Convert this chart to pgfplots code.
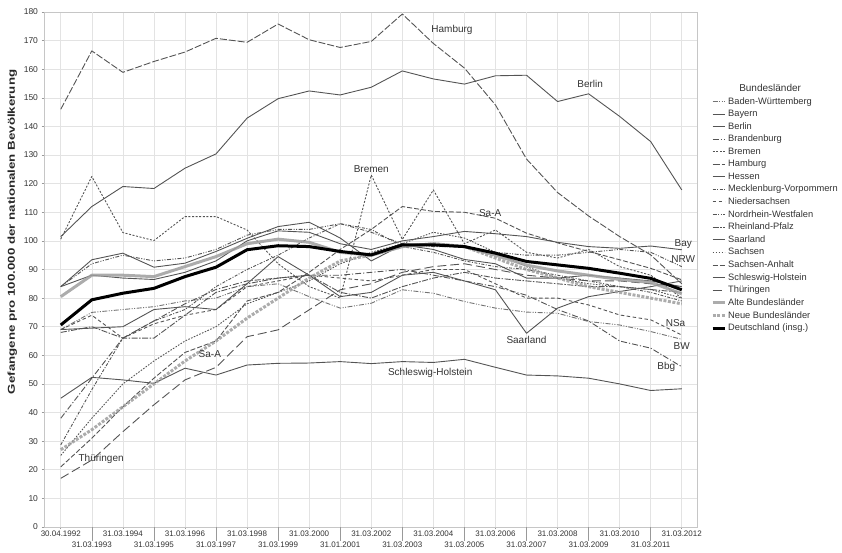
\documentclass[border=0pt]{standalone}
\usepackage{fontspec}
\setmainfont{Liberation Sans}
\usepackage{pgfplots}
\pgfplotsset{compat=1.18}
\definecolor{lc}{gray}{0.33}
\definecolor{lc2}{gray}{0.45}
\definecolor{alt}{gray}{0.62}
\begin{document}
\begin{tikzpicture}
\begin{axis}[
  width=653pt, height=515pt, scale only axis,
  xmin=-0.54, xmax=20.49, ymin=0, ymax=180,
  ytick={0,10,...,180},
  xtick={0,2,...,20},
  xticklabels={30.04.1992,31.03.1994,31.03.1996,31.03.1998,31.03.2000,31.03.2002,31.03.2004,31.03.2006,31.03.2008,31.03.2010,31.03.2012},
  extra x ticks={1,3,...,19},
  extra x tick labels={31.03.1993,31.03.1995,31.03.1997,31.03.1999,31.01.2001,31.03.2003,31.03.2005,31.03.2007,31.03.2009,31.03.2011},
  extra x tick style={major tick length=14pt},
  grid=major, major grid style={gray!22, line width=0.6pt},
  tick align=outside, major tick length=2.5pt,
  tick style={gray!80, line width=0.6pt}, axis line style={gray!45},
  xtick pos=bottom, ytick pos=left,
  ticklabel style={font=\fontsize{8}{8}\selectfont, text=black!80},
  yticklabel style={font=\fontsize{8.5}{8.5}\selectfont},
  xticklabel style={inner sep=1pt},
  /pgf/number format/assume math mode=true,
  ylabel={\scalebox{1.33}[1]{Gefangene pro 100.000 der nationalen Bevölkerung}},
  ylabel style={font=\bfseries\fontsize{10}{10}\selectfont, at={(rel axis cs:-0.036,0.573)}, anchor=south, text=black!85},
  legend cell align=left,
  legend style={at={(rel axis cs:1.0214,0.838)}, anchor=north west, draw=none, fill=none,
    font=\fontsize{9.3}{9.5}\selectfont, text=black!80, row sep=0.4pt, inner sep=0pt},
  legend image code/.code={\draw[#1] (0pt,0pt) -- (12pt,0pt);},
  every axis plot/.append style={line width=0.9pt, lc, line join=round},
  clip=false,
]
% Baden-Wuerttemberg
\addplot[lc2, dash pattern=on 5pt off 1.5pt on 1pt off 1.5pt on 1pt off 1.5pt] coordinates {(0,69)(1,75)(2,76)(3,77)(4,79)(5,80)(6,84)(7,85)(8,80.5)(9,76.5)(10,78.2)(11,82.9)(12,81.7)(13,78.8)(14,76.5)(15,75.1)(16,74.7)(17,71.8)(18,70.6)(19,68.3)(20,65.6)};
\addlegendentry{Baden-Württemberg}
% Bayern
\addplot[solid] coordinates {(0,84)(1,88)(2,87)(3,86.5)(4,89)(5,93)(6,100)(7,103.5)(8,103)(9,99)(10,97)(11,100)(12,101.5)(13,103.3)(14,102.5)(15,101.5)(16,99.5)(17,98)(18,97.4)(19,98.2)(20,96.9)};
\addlegendentry{Bayern}
% Berlin
\addplot[solid] coordinates {(0,101.5)(1,112)(2,119)(3,118.3)(4,125.4)(5,130.4)(6,142.9)(7,149.7)(8,152.4)(9,151)(10,153.7)(11,159.4)(12,156.6)(13,154.8)(14,157.7)(15,157.9)(16,148.7)(17,151.4)(18,143.5)(19,134.7)(20,117.8)};
\addlegendentry{Berlin}
% Brandenburg
\addplot[dash pattern=on 6pt off 2pt on 1.2pt off 2pt] coordinates {(0,38)(1,52)(2,66)(3,72)(4,78)(5,83)(6,86)(7,87)(8,88)(9,88)(10,89)(11,90)(12,88)(13,86)(14,84)(15,81)(16,76)(17,72)(18,65)(19,62.5)(20,56)};
\addlegendentry{Brandenburg}
% Bremen
\addplot[dash pattern=on 2pt off 1.6pt] coordinates {(0,100.6)(1,122.5)(2,102.9)(3,100.1)(4,108.5)(5,108.5)(6,103.8)(7,92)(8,84)(9,80)(10,123)(11,100.5)(12,117.8)(13,99)(14,103.8)(15,96)(16,94)(17,97)(18,91)(19,88)(20,80)};
\addlegendentry{Bremen}
% Hamburg
\addplot[dash pattern=on 7pt off 2pt] coordinates {(0,146)(1,166.4)(2,158.9)(3,162.7)(4,166)(5,170.8)(6,169.4)(7,175.8)(8,170.3)(9,167.6)(10,169.7)(11,179.3)(12,169)(13,160.4)(14,147.5)(15,128.6)(16,116.9)(17,108.7)(18,101.5)(19,95.1)(20,85)};
\addlegendentry{Hamburg}
% Hessen
\addplot[solid] coordinates {(0,84)(1,93.4)(2,95.7)(3,90.8)(4,92.2)(5,96.3)(6,100.9)(7,105)(8,106.5)(9,101)(10,93)(11,98.6)(12,97)(13,93.5)(14,92)(15,87)(16,87)(17,88)(18,87)(19,86)(20,84)};
\addlegendentry{Hessen}
% Mecklenburg-Vorpommern
\addplot[dash pattern=on 3pt off 1.5pt on 1pt off 1.5pt] coordinates {(0,28.7)(1,48)(2,66)(3,72)(4,76)(5,84)(6,90)(7,95)(8,101)(9,106)(10,104)(11,98)(12,96)(13,93)(14,91)(15,90)(16,88)(17,86)(18,84)(19,82)(20,79)};
\addlegendentry{Mecklenburg-Vorpommern}
% Niedersachsen
\addplot[dash pattern=on 3.5pt off 2.5pt] coordinates {(0,69)(1,74)(2,66)(3,71)(4,74)(5,76)(6,84)(7,86)(8,88)(9,87)(10,86)(11,88)(12,90)(13,90)(14,85)(15,80)(16,80)(17,77.6)(18,74.1)(19,72.4)(20,67.1)};
\addlegendentry{Niedersachsen}
% Nordrhein-Westfalen
\addplot[dash pattern=on 4pt off 1.5pt on 1pt off 1.5pt on 1pt off 1.5pt] coordinates {(0,84)(1,92)(2,95)(3,93)(4,94)(5,97)(6,102)(7,104)(8,104)(9,106)(10,103)(11,99)(12,98)(13,98)(14,96)(15,95)(16,95)(17,96)(18,97)(19,96)(20,91)};
\addlegendentry{Nordrhein-Westfalen}
% Rheinland-Pfalz
\addplot[dash pattern=on 6pt off 1.5pt on 1.5pt off 1.5pt] coordinates {(0,68)(1,70)(2,66)(3,66)(4,74)(5,82)(6,85)(7,87)(8,88)(9,82)(10,80)(11,84)(12,87)(13,89)(14,87)(15,86)(16,85)(17,84)(18,84)(19,83)(20,82)};
\addlegendentry{Rheinland-Pfalz}
% Saarland
\addplot[solid] coordinates {(0,69)(1,69.5)(2,70)(3,76)(4,77)(5,76)(6,85)(7,94.5)(8,88)(9,80.5)(10,82)(11,88)(12,89)(13,86)(14,82.9)(15,67.7)(16,76.5)(17,80.5)(18,82.3)(19,84)(20,86)};
\addlegendentry{Saarland}
% Sachsen
\addplot[dash pattern=on 1.6pt off 1.4pt] coordinates {(0,25)(1,38)(2,50)(3,58)(4,65)(5,70)(6,78)(7,82)(8,86)(9,92)(10,96)(11,99)(12,103)(13,101)(14,96)(15,91)(16,87)(17,85)(18,84)(19,83)(20,80)};
\addlegendentry{Sachsen}
% Sachsen-Anhalt
\addplot[dash pattern=on 5pt off 2pt] coordinates {(0,21)(1,31)(2,42)(3,52)(4,61)(5,65)(6,79)(7,82)(8,89)(9,97)(10,104)(11,112)(12,110.3)(13,110)(14,107.9)(15,102.7)(16,99.3)(17,96.3)(18,93.4)(19,90.4)(20,86.4)};
\addlegendentry{Sachsen-Anhalt}
% Schleswig-Holstein
\addplot[solid] coordinates {(0,45)(1,52.3)(2,51.4)(3,50.2)(4,55.5)(5,53.1)(6,56.6)(7,57.2)(8,57.3)(9,57.8)(10,57.1)(11,57.8)(12,57.5)(13,58.6)(14,55.8)(15,53.1)(16,52.8)(17,52)(18,50)(19,47.7)(20,48.3)};
\addlegendentry{Schleswig-Holstein}
% Thueringen
\addplot[dash pattern=on 9pt off 4pt] coordinates {(0,17)(1,23.4)(2,33.3)(3,42.7)(4,51.4)(5,55.8)(6,66.5)(7,68.9)(8,75.9)(9,82.9)(10,85)(11,89)(12,91)(13,92)(14,90)(15,88)(16,87)(17,86)(18,86)(19,85)(20,84)};
\addlegendentry{Thüringen}
% Alte Bundeslaender
\addplot[alt, line width=3pt, opacity=0.85] coordinates {(0,80.5)(1,88)(2,88)(3,87.5)(4,91)(5,94.5)(6,99)(7,100.6)(8,99.5)(9,96)(10,95)(11,98)(12,99)(13,98)(14,95)(15,91.5)(16,89.5)(17,88)(18,86.5)(19,85.5)(20,81.5)};
\addlegendentry{Alte Bundesländer}
% Neue Bundeslaender
\addplot[alt, line width=3pt, dash pattern=on 3pt off 1.5pt, opacity=0.85] coordinates {(0,27)(1,34)(2,42)(3,50)(4,58)(5,65)(6,73)(7,80)(8,87)(9,93)(10,95)(11,98)(12,99)(13,98)(14,94)(15,90)(16,87)(17,84)(18,82)(19,80)(20,78)};
\addlegendentry{Neue Bundesländer}
% Deutschland
\addplot[black, line width=3pt] coordinates {(0,70.6)(1,79.4)(2,81.7)(3,83.4)(4,87.5)(5,90.8)(6,96.9)(7,98.3)(8,98)(9,96.3)(10,95.1)(11,98.6)(12,98.6)(13,98)(14,95.7)(15,92.8)(16,91.6)(17,90.4)(18,88.7)(19,86.9)(20,82.9)};
\addlegendentry{Deutschland (insg.)}

\begin{scope}[every node/.style={font=\fontsize{10}{10}\selectfont, text=black!80, inner sep=1pt}]
\node at (axis cs:12.6,173.8) {Hamburg};
\node at (axis cs:17.05,155) {Berlin};
\node at (axis cs:10.0,125) {Bremen};
\node at (axis cs:13.83,109.8) {Sa-A};
\node at (axis cs:20.05,99) {Bay};
\node at (axis cs:20.05,93.7) {NRW};
\node at (axis cs:19.8,71.3) {NSa};
\node at (axis cs:20.0,63.3) {BW};
\node at (axis cs:19.5,56) {Bbg};
\node at (axis cs:15,65.4) {Saarland};
\node at (axis cs:11.9,53.8) {Schleswig-Holstein};
\node at (axis cs:4.8,60.5) {Sa-A};
\node at (axis cs:1.3,23.8) {Thüringen};
\node at (rel axis cs:1.112,0.852) {Bundesländer};
\end{scope}
\coordinate (bbSW) at (rel axis cs:-0.0674,-0.0505);
\coordinate (bbNE) at (rel axis cs:1.2221,1.0233);
\end{axis}
\pgfresetboundingbox
\path (bbSW) rectangle (bbNE);
\end{tikzpicture}
\end{document}
